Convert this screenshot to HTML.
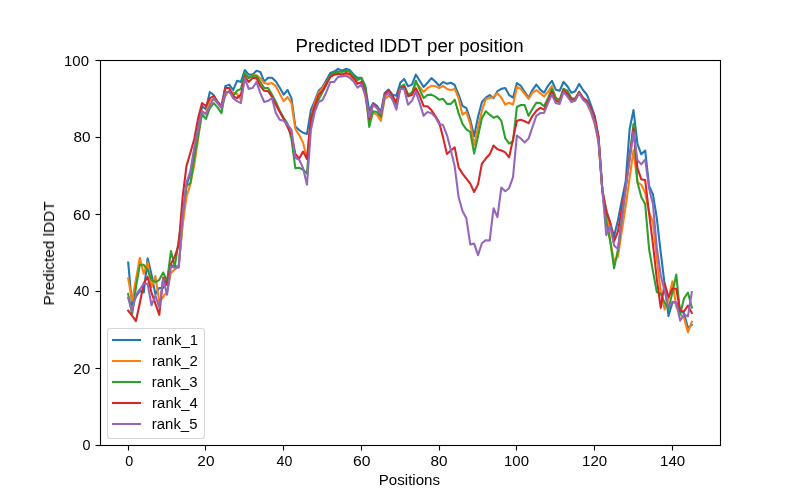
<!DOCTYPE html><html><head><meta charset="utf-8"><style>html,body{margin:0;padding:0;background:#fff;overflow:hidden}svg{display:block}text{will-change:transform}</style></head><body><svg width="800" height="500" viewBox="0 0 800 500">
<rect width="800" height="500" fill="#fff"/>
<defs><clipPath id="c"><rect x="100.0" y="60.0" width="620.0" height="385.0"/></clipPath></defs>
<g clip-path="url(#c)" fill="none" stroke-width="2.083" stroke-linejoin="round" stroke-linecap="square">
<polyline points="128.18,262.51 132.07,305.25 135.96,296.77 139.84,291.00 143.73,292.54 147.62,258.27 151.50,274.45 155.39,294.08 159.28,287.92 163.17,287.92 167.05,283.30 170.94,265.20 174.83,265.98 178.71,266.75 182.60,221.70 186.49,185.12 190.38,173.57 194.26,151.13 198.15,128.65 202.04,106.20 205.92,109.28 209.81,91.95 213.70,95.03 217.59,101.97 221.47,106.20 225.36,86.18 229.25,84.64 233.13,90.03 237.02,80.79 240.91,81.94 244.80,70.01 248.68,74.63 252.57,74.63 256.46,70.78 260.34,71.93 264.23,81.56 268.12,77.71 272.01,77.71 275.89,81.56 279.78,87.72 283.67,94.65 287.55,90.03 291.44,98.12 295.33,126.60 299.22,130.07 303.10,132.77 306.99,133.92 310.88,110.05 314.76,100.81 318.65,90.80 322.54,86.95 326.43,80.02 330.31,73.09 334.20,71.55 338.09,68.86 341.97,70.78 345.86,68.86 349.75,70.01 353.64,74.63 357.52,77.71 361.41,77.71 365.30,85.80 369.18,110.82 373.07,103.12 376.96,105.82 380.85,111.98 384.73,93.11 388.62,89.65 392.51,94.65 396.39,95.81 400.28,82.72 404.17,78.87 408.06,86.18 411.94,84.64 415.83,74.63 419.72,80.79 423.61,86.95 427.49,82.72 431.38,78.10 435.27,81.56 439.15,85.80 443.04,81.94 446.93,83.87 450.82,82.72 454.70,85.02 458.59,94.65 462.48,105.82 466.36,108.12 470.25,119.68 474.14,136.23 478.03,116.98 481.91,101.97 485.80,97.73 489.69,95.03 493.57,98.12 497.46,91.19 501.35,88.88 505.24,88.10 509.12,95.03 513.01,97.73 516.90,83.10 520.78,85.80 524.67,91.95 528.56,97.73 532.45,90.03 536.33,84.64 540.22,89.65 544.11,92.72 547.99,85.80 551.88,80.79 555.77,89.65 559.66,90.80 563.54,81.94 567.43,86.18 571.32,92.72 575.20,91.19 579.09,83.87 582.98,90.03 586.87,94.65 590.75,104.66 594.64,115.82 598.53,137.00 602.41,190.90 606.30,210.15 610.19,223.24 614.08,236.33 617.96,220.16 621.85,200.14 625.74,180.89 629.62,129.30 633.51,110.05 637.40,143.93 641.29,154.32 645.17,150.48 649.06,185.90 652.95,194.37 656.83,218.24 660.72,252.50 664.61,284.07 668.50,316.02 672.38,302.55 676.27,302.55 680.16,310.25 684.04,313.33 687.93,327.96 691.82,324.88" stroke="#1f77b4"/>
<polyline points="128.18,278.29 132.07,300.62 135.96,279.45 139.84,257.89 143.73,273.68 147.62,262.51 151.50,287.15 155.39,275.99 159.28,302.16 163.17,296.77 167.05,291.77 170.94,272.90 174.83,269.44 178.71,266.36 182.60,225.55 186.49,196.67 190.38,184.35 194.26,164.72 198.15,138.93 202.04,111.20 205.92,113.90 209.81,100.43 213.70,99.27 217.59,103.12 221.47,106.97 225.36,95.81 229.25,90.80 233.13,92.72 237.02,93.88 240.91,99.65 244.80,75.40 248.68,77.32 252.57,75.40 256.46,75.40 260.34,78.10 264.23,83.10 268.12,83.87 272.01,83.10 275.89,86.18 279.78,93.88 283.67,101.19 287.55,96.96 291.44,103.12 295.33,128.92 299.22,135.07 303.10,142.77 306.99,158.94 310.88,117.75 314.76,103.12 318.65,92.72 322.54,88.10 326.43,82.72 330.31,76.55 334.20,74.63 338.09,73.09 341.97,74.63 345.86,73.86 349.75,75.01 353.64,78.87 357.52,82.72 361.41,83.10 365.30,95.81 369.18,121.22 373.07,112.75 376.96,114.67 380.85,120.83 384.73,98.88 388.62,95.81 392.51,98.12 396.39,103.12 400.28,88.10 404.17,86.18 408.06,95.03 411.94,93.88 415.83,83.10 419.72,86.95 423.61,91.95 427.49,88.10 431.38,85.80 435.27,86.18 439.15,88.10 443.04,85.80 446.93,88.88 450.82,90.03 454.70,88.88 458.59,98.12 462.48,114.67 466.36,111.98 470.25,123.91 474.14,145.08 478.03,127.38 481.91,110.82 485.80,98.88 489.69,98.12 493.57,96.96 497.46,93.11 501.35,97.73 505.24,104.66 509.12,102.74 513.01,104.66 516.90,86.95 520.78,88.88 524.67,93.88 528.56,98.88 532.45,92.72 536.33,90.03 540.22,93.11 544.11,96.57 547.99,91.95 551.88,86.18 555.77,98.12 559.66,100.81 563.54,88.88 567.43,91.95 571.32,98.88 575.20,98.12 579.09,91.95 582.98,98.12 586.87,103.12 590.75,111.98 594.64,123.91 598.53,142.77 602.41,190.90 606.30,210.15 610.19,240.95 614.08,261.36 617.96,256.35 621.85,230.94 625.74,205.91 629.62,178.00 633.51,150.09 637.40,182.05 641.29,184.74 645.17,192.82 649.06,212.08 652.95,222.09 656.83,259.05 660.72,291.38 664.61,309.48 668.50,298.70 672.38,281.38 676.27,306.78 680.16,314.10 684.04,317.95 687.93,332.19 691.82,321.80" stroke="#ff7f0e"/>
<polyline points="128.18,294.08 132.07,314.10 135.96,287.15 139.84,264.82 143.73,264.82 147.62,270.21 151.50,279.84 155.39,282.14 159.28,279.84 163.17,272.52 167.05,281.38 170.94,250.96 174.83,266.36 178.71,240.18 182.60,214.00 186.49,185.90 190.38,183.20 194.26,158.56 198.15,135.07 202.04,114.28 205.92,118.91 209.81,108.12 213.70,103.12 217.59,107.36 221.47,113.13 225.36,91.95 229.25,91.95 233.13,95.81 237.02,90.80 240.91,88.88 244.80,73.09 248.68,78.10 252.57,75.78 256.46,75.78 260.34,81.94 264.23,88.10 268.12,88.10 272.01,94.65 275.89,101.97 279.78,110.82 283.67,117.75 287.55,123.53 291.44,138.93 295.33,168.18 299.22,167.80 303.10,169.73 306.99,173.57 310.88,121.60 314.76,108.12 318.65,99.65 322.54,91.95 326.43,84.64 330.31,74.63 334.20,72.70 338.09,71.55 341.97,71.93 345.86,70.78 349.75,71.55 353.64,75.78 357.52,80.02 361.41,78.10 365.30,86.95 369.18,126.99 373.07,111.20 376.96,111.98 380.85,116.98 384.73,95.81 388.62,91.95 392.51,99.65 396.39,104.66 400.28,86.95 404.17,84.64 408.06,94.65 411.94,92.72 415.83,80.79 419.72,89.65 423.61,98.12 427.49,95.03 431.38,94.65 435.27,96.57 439.15,99.65 443.04,98.88 446.93,103.89 450.82,103.89 454.70,99.65 458.59,113.13 462.48,123.91 466.36,129.30 470.25,132.00 474.14,153.56 478.03,136.23 481.91,118.13 485.80,111.20 489.69,114.67 493.57,117.75 497.46,116.21 501.35,120.83 505.24,138.15 509.12,143.55 513.01,141.24 516.90,106.97 520.78,105.05 524.67,105.05 528.56,115.82 532.45,108.89 536.33,102.74 540.22,103.12 544.11,106.20 547.99,98.12 551.88,88.88 555.77,98.12 559.66,99.65 563.54,88.88 567.43,90.80 571.32,98.12 575.20,99.65 579.09,91.95 582.98,97.73 586.87,100.81 590.75,108.12 594.64,120.83 598.53,138.93 602.41,190.90 606.30,221.70 610.19,240.95 614.08,268.29 617.96,249.81 621.85,219.00 625.74,188.20 629.62,156.06 633.51,123.91 637.40,182.05 641.29,197.06 645.17,203.99 649.06,249.03 652.95,271.37 656.83,292.15 660.72,293.70 664.61,302.55 668.50,309.10 672.38,292.54 676.27,274.45 680.16,314.49 684.04,298.31 687.93,292.54 691.82,307.55" stroke="#2ca02c"/>
<polyline points="128.18,310.63 132.07,315.64 135.96,321.03 139.84,302.94 143.73,283.30 147.62,276.75 151.50,292.54 155.39,303.70 159.28,314.87 163.17,277.52 167.05,284.84 170.94,264.05 174.83,256.35 178.71,245.19 182.60,197.06 186.49,165.88 190.38,152.79 194.26,138.93 198.15,118.13 202.04,103.12 205.92,106.20 209.81,98.12 213.70,96.19 217.59,101.97 221.47,106.97 225.36,88.10 229.25,88.10 233.13,96.19 237.02,98.12 240.91,94.65 244.80,76.55 248.68,81.94 252.57,78.10 256.46,78.10 260.34,86.18 264.23,90.80 268.12,91.19 272.01,96.96 275.89,104.66 279.78,111.98 283.67,118.91 287.55,126.99 291.44,135.07 295.33,153.94 299.22,158.56 303.10,151.63 306.99,158.94 310.88,117.75 314.76,106.20 318.65,95.03 322.54,90.80 326.43,83.87 330.31,76.94 334.20,74.63 338.09,73.86 341.97,74.63 345.86,73.09 349.75,73.86 353.64,78.10 357.52,83.87 361.41,81.94 365.30,91.95 369.18,118.91 373.07,103.89 376.96,106.97 380.85,114.67 384.73,93.88 388.62,90.03 392.51,96.19 396.39,101.97 400.28,88.10 404.17,86.95 408.06,96.19 411.94,95.03 415.83,88.10 419.72,95.81 423.61,106.20 427.49,106.20 431.38,110.05 435.27,115.82 439.15,122.37 443.04,137.38 446.93,153.94 450.82,150.48 454.70,147.39 458.59,167.42 462.48,173.57 466.36,178.58 470.25,183.58 474.14,192.05 478.03,184.35 481.91,163.56 485.80,158.56 489.69,154.32 493.57,145.47 497.46,149.32 501.35,150.48 505.24,152.40 509.12,157.40 513.01,139.12 516.90,120.83 520.78,119.68 524.67,121.22 528.56,123.14 532.45,115.82 536.33,110.82 540.22,107.74 544.11,109.67 547.99,100.81 551.88,91.95 555.77,100.81 559.66,101.97 563.54,90.03 567.43,93.88 571.32,99.65 575.20,99.65 579.09,91.95 582.98,98.12 586.87,101.19 590.75,108.12 594.64,116.98 598.53,137.00 602.41,190.90 606.30,212.08 610.19,222.47 614.08,241.33 617.96,231.32 621.85,208.22 625.74,185.90 629.62,157.40 633.51,128.92 637.40,167.80 641.29,179.35 645.17,180.12 649.06,213.23 652.95,244.03 656.83,279.06 660.72,307.94 664.61,283.30 668.50,297.16 672.38,288.69 676.27,288.69 680.16,311.02 684.04,311.40 687.93,305.63 691.82,312.95" stroke="#d62728"/>
<polyline points="128.18,297.93 132.07,311.40 135.96,294.85 139.84,289.46 143.73,283.69 147.62,283.69 151.50,305.25 155.39,295.62 159.28,307.55 163.17,279.06 167.05,294.85 170.94,266.36 174.83,267.90 178.71,267.51 182.60,215.93 186.49,182.43 190.38,171.65 194.26,147.39 198.15,128.92 202.04,111.20 205.92,114.28 209.81,105.82 213.70,98.12 217.59,103.12 221.47,108.12 225.36,92.72 229.25,91.19 233.13,98.12 237.02,101.19 240.91,103.12 244.80,78.10 248.68,88.88 252.57,88.10 256.46,81.94 260.34,93.11 264.23,101.97 268.12,100.81 272.01,98.12 275.89,113.13 279.78,119.68 283.67,120.83 287.55,124.68 291.44,129.69 295.33,157.79 299.22,159.71 303.10,168.18 306.99,184.74 310.88,130.07 314.76,111.98 318.65,101.97 322.54,100.04 326.43,91.95 330.31,81.94 334.20,81.94 338.09,76.94 341.97,76.55 345.86,75.78 349.75,77.71 353.64,81.56 357.52,87.72 361.41,84.64 365.30,94.65 369.18,116.98 373.07,105.05 376.96,108.12 380.85,113.90 384.73,95.81 388.62,92.72 392.51,99.65 396.39,109.67 400.28,88.88 404.17,88.88 408.06,104.66 411.94,100.81 415.83,91.95 419.72,103.12 423.61,115.82 427.49,111.98 431.38,113.13 435.27,116.98 439.15,123.91 443.04,125.06 446.93,135.07 450.82,150.09 454.70,166.26 458.59,197.06 462.48,210.92 466.36,218.24 470.25,244.41 474.14,243.64 478.03,255.19 481.91,243.26 485.80,240.18 489.69,240.56 493.57,208.22 497.46,217.08 501.35,187.44 505.24,191.28 509.12,188.20 513.01,177.04 516.90,135.46 520.78,138.54 524.67,142.39 528.56,138.54 532.45,127.18 536.33,115.82 540.22,113.13 544.11,112.75 547.99,103.12 551.88,94.65 555.77,103.12 559.66,103.89 563.54,91.95 567.43,96.57 571.32,101.97 575.20,100.81 579.09,93.11 582.98,99.65 586.87,103.12 590.75,110.82 594.64,121.98 598.53,140.85 602.41,190.90 606.30,235.17 610.19,225.94 614.08,245.57 617.96,249.03 621.85,218.04 625.74,187.05 629.62,159.71 633.51,132.38 637.40,160.10 641.29,164.33 645.17,159.33 649.06,188.20 652.95,204.38 656.83,247.88 660.72,275.22 664.61,291.00 668.50,306.78 672.38,301.78 676.27,302.55 680.16,320.65 684.04,314.49 687.93,316.41 691.82,292.15" stroke="#9467bd"/>
</g>
<rect x="100.5" y="60.5" width="620" height="385" fill="none" stroke="#000" stroke-width="1.111" stroke-linejoin="miter"/>
<line x1="128.50" y1="445" x2="128.50" y2="450.5" stroke="#000" stroke-width="1.111"/>
<line x1="205.50" y1="445" x2="205.50" y2="450.5" stroke="#000" stroke-width="1.111"/>
<line x1="283.50" y1="445" x2="283.50" y2="450.5" stroke="#000" stroke-width="1.111"/>
<line x1="361.50" y1="445" x2="361.50" y2="450.5" stroke="#000" stroke-width="1.111"/>
<line x1="439.50" y1="445" x2="439.50" y2="450.5" stroke="#000" stroke-width="1.111"/>
<line x1="516.50" y1="445" x2="516.50" y2="450.5" stroke="#000" stroke-width="1.111"/>
<line x1="594.50" y1="445" x2="594.50" y2="450.5" stroke="#000" stroke-width="1.111"/>
<line x1="672.50" y1="445" x2="672.50" y2="450.5" stroke="#000" stroke-width="1.111"/>
<line x1="95.5" y1="445.50" x2="100.5" y2="445.50" stroke="#000" stroke-width="1.111"/>
<line x1="95.5" y1="368.50" x2="100.5" y2="368.50" stroke="#000" stroke-width="1.111"/>
<line x1="95.5" y1="291.50" x2="100.5" y2="291.50" stroke="#000" stroke-width="1.111"/>
<line x1="95.5" y1="214.50" x2="100.5" y2="214.50" stroke="#000" stroke-width="1.111"/>
<line x1="95.5" y1="137.50" x2="100.5" y2="137.50" stroke="#000" stroke-width="1.111"/>
<line x1="95.5" y1="60.50" x2="100.5" y2="60.50" stroke="#000" stroke-width="1.111"/>
<g font-family='"Liberation Sans", sans-serif' fill="#000">
<text x="129.32" y="466.02" text-anchor="middle" font-size="14.10" textLength="8.01" lengthAdjust="spacingAndGlyphs">0</text>
<text x="205.89" y="466.05" text-anchor="middle" font-size="14.10" textLength="17.11" lengthAdjust="spacingAndGlyphs">20</text>
<text x="284.45" y="465.67" text-anchor="middle" font-size="14.10" textLength="15.79" lengthAdjust="spacingAndGlyphs">40</text>
<text x="361.82" y="466.03" text-anchor="middle" font-size="14.10" textLength="17.47" lengthAdjust="spacingAndGlyphs">60</text>
<text x="438.92" y="465.96" text-anchor="middle" font-size="14.10" textLength="17.03" lengthAdjust="spacingAndGlyphs">80</text>
<text x="516.53" y="465.90" text-anchor="middle" font-size="14.10" textLength="24.94" lengthAdjust="spacingAndGlyphs">100</text>
<text x="594.58" y="465.91" text-anchor="middle" font-size="14.10" textLength="25.11" lengthAdjust="spacingAndGlyphs">120</text>
<text x="672.62" y="465.64" text-anchor="middle" font-size="14.10" textLength="25.12" lengthAdjust="spacingAndGlyphs">140</text>
<text x="90.41" y="450.27" text-anchor="end" font-size="14.10" textLength="7.99" lengthAdjust="spacingAndGlyphs">0</text>
<text x="90.32" y="374.11" text-anchor="end" font-size="14.10" textLength="17.13" lengthAdjust="spacingAndGlyphs">20</text>
<text x="89.27" y="295.93" text-anchor="end" font-size="14.10" textLength="15.56" lengthAdjust="spacingAndGlyphs">40</text>
<text x="90.39" y="220.09" text-anchor="end" font-size="14.10" textLength="17.30" lengthAdjust="spacingAndGlyphs">60</text>
<text x="90.45" y="142.22" text-anchor="end" font-size="14.10" textLength="17.03" lengthAdjust="spacingAndGlyphs">80</text>
<text x="88.99" y="65.94" text-anchor="end" font-size="14.10" textLength="24.95" lengthAdjust="spacingAndGlyphs">100</text>
<text x="409.42" y="485.39" text-anchor="middle" font-size="13.99" textLength="61.21" lengthAdjust="spacingAndGlyphs">Positions</text>
<text transform="translate(53.98,253.46) rotate(-90)" text-anchor="middle" font-size="14.53" textLength="104.15" lengthAdjust="spacingAndGlyphs">Predicted lDDT</text>
<text x="409.56" y="51.97" text-anchor="middle" font-size="18.26" textLength="228.14" lengthAdjust="spacingAndGlyphs">Predicted lDDT per position</text>
</g>
<rect x="107.5" y="328.5" width="97" height="110" rx="2.8" fill="#fff" fill-opacity="0.8" stroke="#cccccc" stroke-opacity="0.8" stroke-width="1.111"/>
<g font-family='"Liberation Sans", sans-serif' fill="#000">
<line x1="113" y1="340.00" x2="140" y2="340.00" stroke="#1f77b4" stroke-width="2.083" stroke-linecap="square"/>
<text x="152.39" y="344.52" text-anchor="start" font-size="13.95" textLength="45.60" lengthAdjust="spacingAndGlyphs">rank_1</text>
<line x1="113" y1="361.00" x2="140" y2="361.00" stroke="#ff7f0e" stroke-width="2.083" stroke-linecap="square"/>
<text x="152.11" y="365.74" text-anchor="start" font-size="13.95" textLength="45.60" lengthAdjust="spacingAndGlyphs">rank_2</text>
<line x1="113" y1="382.00" x2="140" y2="382.00" stroke="#2ca02c" stroke-width="2.083" stroke-linecap="square"/>
<text x="151.87" y="386.80" text-anchor="start" font-size="13.95" textLength="45.60" lengthAdjust="spacingAndGlyphs">rank_3</text>
<line x1="113" y1="403.00" x2="140" y2="403.00" stroke="#d62728" stroke-width="2.083" stroke-linecap="square"/>
<text x="152.14" y="407.73" text-anchor="start" font-size="13.95" textLength="45.60" lengthAdjust="spacingAndGlyphs">rank_4</text>
<line x1="113" y1="424.00" x2="140" y2="424.00" stroke="#9467bd" stroke-width="2.083" stroke-linecap="square"/>
<text x="151.85" y="429.03" text-anchor="start" font-size="13.95" textLength="45.60" lengthAdjust="spacingAndGlyphs">rank_5</text>
</g>
</svg></body></html>
